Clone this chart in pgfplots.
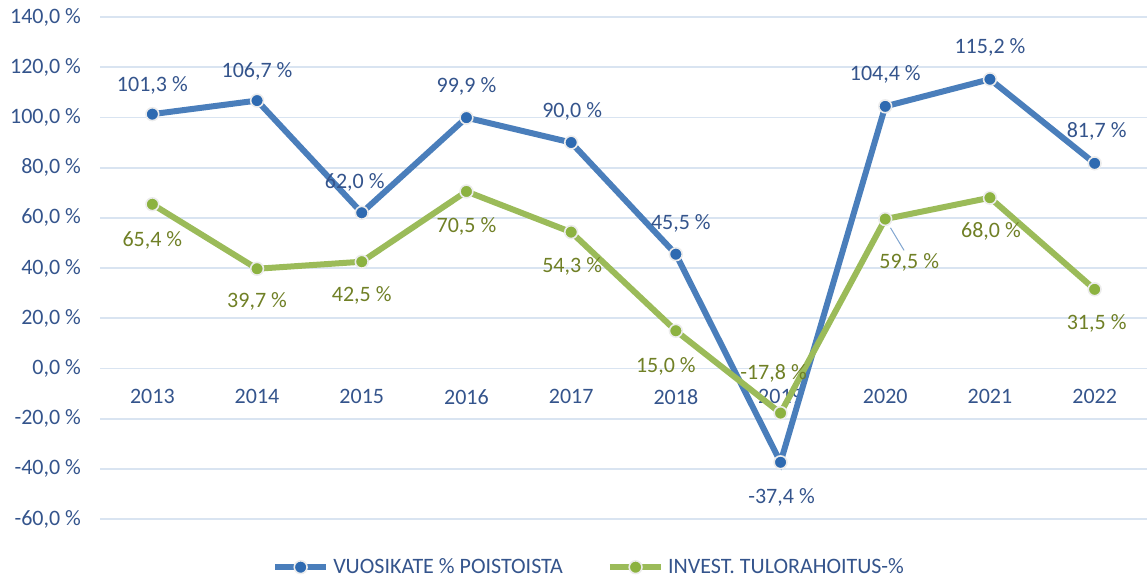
\documentclass[border=0pt]{standalone}
\usepackage{pgfplots}
\pgfplotsset{compat=1.18}
\usepackage{pgfplotstable}
\usepackage{fontspec}
\setmainfont{Carlito}

\definecolor{blueline}{RGB}{74,126,187}
\definecolor{bluemark}{RGB}{46,106,177}
\definecolor{greenline}{RGB}{155,187,89}
\definecolor{greenmark}{RGB}{140,178,64}
\definecolor{bluetext}{RGB}{52,84,140}
\definecolor{greentext}{RGB}{112,128,38}
\definecolor{gridc}{RGB}{217,228,241}

% x = year index, dx/dy = label offset in pt
\pgfplotstableread{
x  y      dx    dy
0  101.3  0     14.5
1  106.7  0     14.5
2  62.0  -3.5   15
3  99.9   0     15.5
4  90.0   0.5   15.5
5  45.5   2.5   15.5
6  -37.4  0.5  -17.5
7  104.4  0     16
8  115.2  0     16
9  81.7   1     16
}\vuosikate

\pgfplotstableread{
x  y      dx    dy
0  65.4   0    -18
1  39.7   0    -16.5
2  42.5   0    -17
3  70.5   0    -17.5
4  54.3   0.5  -17
5  15.0  -5    -18
6  -17.8 -3.5   20
7  59.5   12   -21.5
8  68.0   0.5  -17
9  31.5   1    -17
}\tulorahoitus

\begin{document}
\begin{tikzpicture}
\path[use as bounding box] (-50pt,-30pt) rectangle (523.5pt,259.5pt);
\begin{axis}[
    scale only axis,
    width=523.5pt, height=251pt,
    at={(0,0)}, anchor=south west,
    xmin=-0.5, xmax=9.5,
    ymin=-60, ymax=140,
    ytick={-60,-40,...,140},
    xtick={0,...,9},
    xticklabels={2013,2014,2015,2016,2017,2018,2019,2020,2021,2022},
    axis x line*=middle,
    axis y line*=left,
    axis line style={draw=none},
    major tick style={draw=none},
    ymajorgrids,
    grid style={gridc, line width=0.9pt},
    font=\fontsize{11}{13}\selectfont,
    /pgf/number format/assume math mode=true,
    tick label style={text=bluetext},
    yticklabel={\pgfmathprintnumber[fixed,fixed zerofill,precision=1,use comma]{\tick}~\%},
    yticklabel style={xshift=-6pt},
    xticklabel style={yshift=-7pt},
    nodes near coords={\pgfmathprintnumber[fixed,fixed zerofill,precision=1,use comma]{\pgfplotspointmeta}~\%},
    visualization depends on={\thisrow{dx} \as \dx},
    visualization depends on={\thisrow{dy} \as \dy},
    nodes near coords style={anchor=center, xshift=\dx pt, yshift=\dy pt, font=\fontsize{11}{13}\selectfont},
    legend style={at={(0.468,-0.096)}, anchor=center, draw=none, fill=none,
        legend columns=2, text=bluetext, /tikz/every even column/.append style={column sep=20pt}},
    legend image code/.code={\draw[mark repeat=2,mark phase=2,#1] plot coordinates {(0cm,0cm)(0.45cm,0cm)(0.9cm,0cm)};},
    clip=false,
]
\addplot[blueline, line width=3pt, mark=*, mark size=3.2pt,
    mark options={fill=bluemark, draw=white!85!gray, line width=0.8pt},
    nodes near coords style={text=bluetext}]
    table[x=x, y=y] {\vuosikate};
\addlegendentry{VUOSIKATE \% POISTOISTA}

\addplot[greenline, line width=3pt, mark=*, mark size=3.2pt,
    mark options={fill=greenmark, draw=white!85!gray, line width=0.8pt},
    nodes near coords style={text=greentext}]
    table[x=x, y=y] {\tulorahoitus};
\addlegendentry{INVEST. TULORAHOITUS-\%}

\draw[blueline!70, line width=0.5pt] (axis cs:7.05,56) -- (axis cs:7.18,47);
\end{axis}
\end{tikzpicture}
\end{document}
